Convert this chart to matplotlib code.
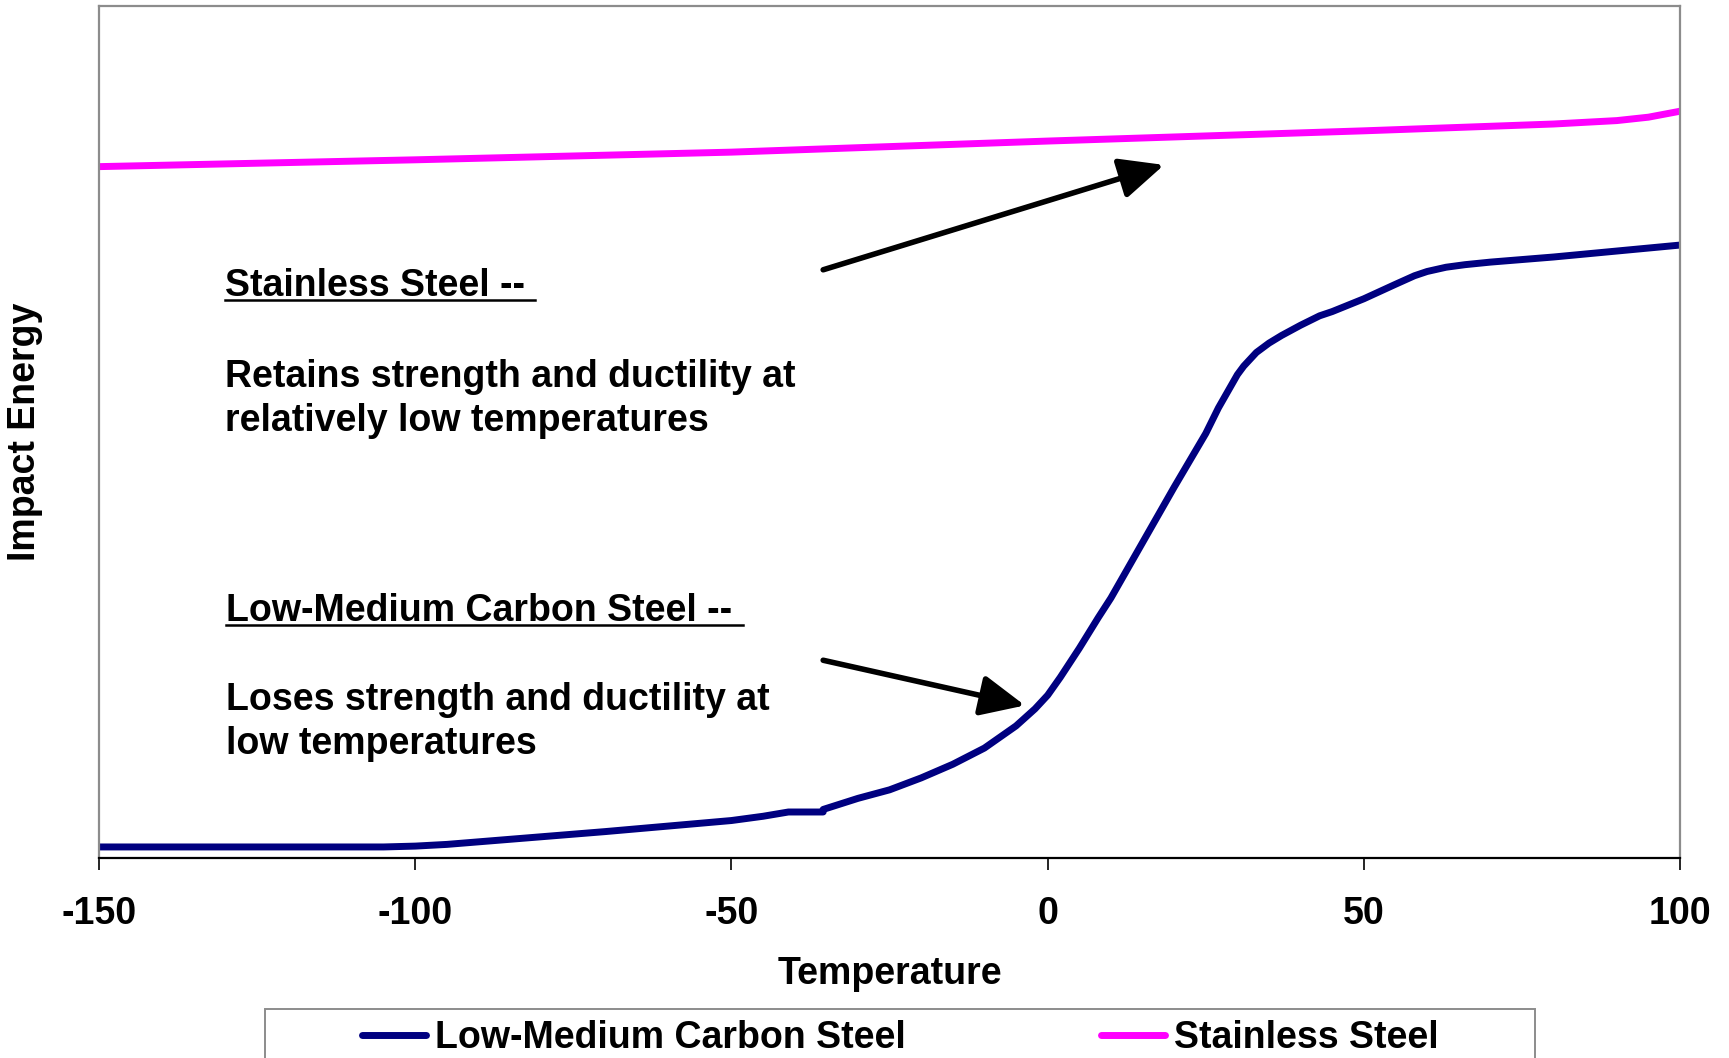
import numpy as np
import matplotlib
matplotlib.use("Agg")
import matplotlib.pyplot as plt
from matplotlib.lines import Line2D
from matplotlib.patches import Rectangle

plt.rcParams['font.family'] = ['Liberation Sans', 'DejaVu Sans']
plt.rcParams['font.weight'] = 'bold'
FS = 27

# values (y is an arbitrary 0-100 energy scale)
temp_carbon = [-150, -125, -105, -100, -95, -90, -80, -70, -60, -50, -45, -41,
               -35.5, -35.5, -30, -25, -20, -15, -10, -5, -2, 0, 2, 5, 8, 10,
               15, 20, 25, 27, 29, 30, 31, 33, 35, 37, 40, 43, 45, 50, 55, 58, 60,
               63, 66, 70, 80, 90, 100]
energy_carbon = [1.3, 1.3, 1.3, 1.4, 1.6, 1.9, 2.5, 3.1, 3.75, 4.4, 4.9, 5.4,
                 5.4, 5.7, 7.0, 8.0, 9.4, 11.0, 12.9, 15.5, 17.5, 19.1, 21.2, 24.6, 28.2, 30.5,
                 37.0, 43.5, 49.8, 52.8, 55.4, 56.7, 57.7, 59.3, 60.4, 61.3, 62.5, 63.6, 64.1,
                 65.6, 67.3, 68.3, 68.8, 69.3, 69.6, 69.9, 70.5, 71.2, 71.9]

temp_stainless = [-150, -100, -50, 0, 50, 80, 90, 95, 100]
energy_stainless = [81.1, 81.9, 82.8, 84.1, 85.3, 86.1, 86.5, 86.9, 87.6]

xticks = [-150, -100, -50, 0, 50, 100]

fig = plt.figure(figsize=(17.29, 10.58), dpi=100)
ax = fig.add_axes([0.0573, 0.189, 0.9144, 0.8058])

l1, = ax.plot(temp_carbon, energy_carbon, color='#000080', lw=5,
              solid_capstyle='round', solid_joinstyle='round', label='Low-Medium Carbon Steel')
l2, = ax.plot(temp_stainless, energy_stainless, color='#FF00FF', lw=5,
              solid_capstyle='round', solid_joinstyle='round', label='Stainless Steel')

ax.set_xlim(-150, 100)
ax.set_ylim(0, 100)
ax.set_xticks(xticks)
ax.set_xticklabels([str(t) for t in xticks])
ax.set_yticks([])
ax.tick_params(axis='x', direction='out', length=8.5, width=1.2, color='black',
               pad=19, labelsize=FS)
for s in ['left', 'top', 'right']:
    ax.spines[s].set_color('#8c8c8c')
    ax.spines[s].set_linewidth(1.6)
ax.spines['bottom'].set_color('black')
ax.spines['bottom'].set_linewidth(1.6)

ax.set_xlabel('Temperature', fontsize=FS, fontweight='bold')
ax.xaxis.set_label_coords(0.5, -0.115)
ax.set_ylabel('Impact Energy', fontsize=FS, fontweight='bold')
ax.yaxis.set_label_coords(-0.0354, 0.5)

# annotation texts
head1 = ax.text(-130.1, 65.9, 'Stainless Steel --', fontsize=FS, va='baseline')
ax.text(-130.1, 55.3, 'Retains strength and ductility at', fontsize=FS, va='baseline')
ax.text(-130.1, 50.1, 'relatively low temperatures', fontsize=FS, va='baseline')
head2 = ax.text(-129.9, 27.8, 'Low-Medium Carbon Steel --', fontsize=FS, va='baseline')
ax.text(-129.9, 17.4, 'Loses strength and ductility at', fontsize=FS, va='baseline')
ax.text(-129.9, 12.2, 'low temperatures', fontsize=FS, va='baseline')

arrow = dict(arrowstyle='-|>,head_length=1.35,head_width=0.62', lw=4, color='black',
             mutation_scale=20, shrinkA=0, shrinkB=0)
ax.annotate('', xy=(18.4, 81.3), xytext=(-35.5, 69.0), arrowprops=arrow)
ax.annotate('', xy=(-3.6, 17.9), xytext=(-35.5, 23.2), arrowprops=arrow)

# legend (frame drawn separately, it runs off the bottom of the figure)
W, H = 1729, 1058
fig.legend(handles=[l1, l2], loc='center left',
           bbox_to_anchor=(362 / W, 1 - 1038 / H), ncol=2, frameon=False,
           fontsize=FS, handlelength=1.7, handletextpad=0.25,
           columnspacing=5.2, borderpad=0, borderaxespad=0)
fig.add_artist(Rectangle((265 / W, -0.02), (1535 - 265) / W, 0.02 + (H - 1009) / H,
                         transform=fig.transFigure, fill=False,
                         edgecolor='#8c8c8c', lw=1.4, clip_on=False))

# underline the two headings
fig.canvas.draw()
renderer = fig.canvas.get_renderer()
px = FS * 100 / 72
for t in [head1, head2]:
    bb = t.get_window_extent(renderer)
    xb, yb = ax.transData.transform(t.get_position())
    yu = yb - 0.11 * px
    x1 = bb.x1 + 0.278 * px
    fig.add_artist(Line2D([xb / W, x1 / W], [yu / H, yu / H],
                          transform=fig.transFigure, color='black', lw=1.8))

fig.savefig('out.png', dpi=100)
